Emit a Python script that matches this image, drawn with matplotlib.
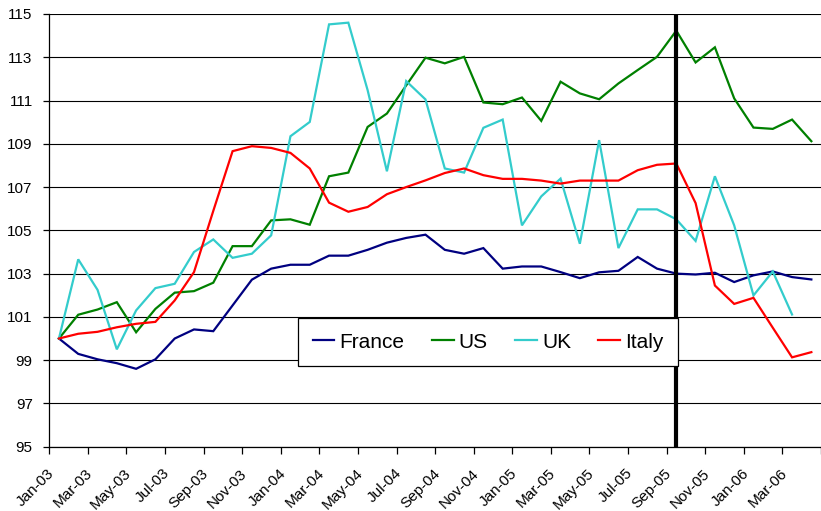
import matplotlib
matplotlib.use("Agg")
import matplotlib.pyplot as plt
import matplotlib.transforms as mtransforms
import numpy as np

months = ["Jan-03","Feb-03","Mar-03","Apr-03","May-03","Jun-03","Jul-03","Aug-03","Sep-03","Oct-03","Nov-03","Dec-03",
          "Jan-04","Feb-04","Mar-04","Apr-04","May-04","Jun-04","Jul-04","Aug-04","Sep-04","Oct-04","Nov-04","Dec-04",
          "Jan-05","Feb-05","Mar-05","Apr-05","May-05","Jun-05","Jul-05","Aug-05","Sep-05","Oct-05","Nov-05","Dec-05",
          "Jan-06","Feb-06","Mar-06","Apr-06"]

france = [100.0, 99.29, 99.04, 98.86, 98.6, 99.04, 100.0, 100.42, 100.34, 101.53, 102.72, 103.23,
          103.41, 103.41, 103.83, 103.83, 104.1, 104.43, 104.65, 104.8, 104.1, 103.92, 104.18, 103.23,
          103.33, 103.33, 103.07, 102.79, 103.06, 103.13, 103.77, 103.23, 103.0, 102.96, 103.04, 102.61,
          102.92, 103.1, 102.84, 102.73]

us = [100.0, 101.1, 101.34, 101.68, 100.29, 101.37, 102.12, 102.19, 102.58, 104.27, 104.27, 105.46,
      105.51, 105.26, 107.5, 107.67, 109.78, 110.4, 111.7, 112.98, 112.72, 113.02, 110.91, 110.83,
      111.14, 110.06, 111.87, 111.33, 111.06, 111.79, 112.41, 113.02, 114.23, 112.76, 113.46, 111.1,
      109.75, 109.69, 110.12, 109.12]

uk = [100.0, 103.66, 102.25, 99.5, 101.3, 102.33, 102.53, 104.0, 104.58, 103.73, 103.92, 104.77,
      109.35, 110.01, 114.52, 114.6, 111.48, 107.73, 111.9, 111.05, 107.86, 107.67, 109.74, 110.12,
      105.23, 106.57, 107.39, 104.38, 109.17, 104.18, 105.97, 105.97, 105.51, 104.51, 107.5, 105.23,
      101.99, 103.1, 101.11, np.nan]

italy = [100.0, 100.22, 100.31, 100.52, 100.68, 100.77, 101.76, 103.07, 105.9, 108.66, 108.89, 108.81,
         108.58, 107.86, 106.28, 105.86, 106.08, 106.67, 107.0, 107.31, 107.65, 107.86, 107.55, 107.38,
         107.38, 107.3, 107.16, 107.3, 107.3, 107.3, 107.78, 108.03, 108.09, 106.26, 102.45, 101.6,
         101.88, 100.5, 99.13, 99.37]

series_names = ["France", "US", "UK", "Italy"]
series_colors = ["#000080", "#008000", "#33CCCC", "#FF0000"]
marker_month = "Sep-05"
yticks = list(range(95, 116, 2))

plt.rcParams['font.family'] = ['Liberation Sans', 'DejaVu Sans']

W, H = 821, 511
fig = plt.figure(figsize=(W/100, H/100), dpi=100)
left_px, right_px, top_px, bottom_px = 49.3, 821, 14, 446.7
ax = fig.add_axes([left_px/W, 1 - bottom_px/H, (right_px-left_px)/W, (bottom_px-top_px)/H])

x = np.arange(len(months))
for vals, name, col in zip([france, us, uk, italy], series_names, series_colors):
    ax.plot(x, vals, color=col, lw=1.6, label=name, solid_joinstyle='miter')

ax.axvline(months.index(marker_month), color='black', lw=3.0, zorder=5)

ax.set_ylim(95, 115)
ax.set_yticks(yticks)
ax.set_yticklabels([str(v) for v in yticks], fontsize=11)
step = (right_px - left_px) / 39.68
ax.set_xlim(-0.5, (right_px - left_px) / step - 0.5)

ax.grid(axis='y', color='black', lw=0.8)
ax.set_axisbelow(True)
for s in ['top', 'right']:
    ax.spines[s].set_visible(False)
ax.spines['left'].set_color('black')
ax.spines['bottom'].set_color('black')
ax.spines['left'].set_linewidth(0.9)
ax.spines['bottom'].set_linewidth(0.9)

ax.tick_params(axis='y', direction='out', length=4, width=0.9, pad=8)

# labels at category centers, tick marks at category boundaries
ax.set_xticks(x[::2])
ax.set_xticklabels(months[::2], rotation=45, ha='right', fontsize=11)
ax.tick_params(axis='x', which='major', length=0, pad=14)
ax.set_xticks(np.arange(-0.5, len(months), 2), minor=True)
ax.tick_params(axis='x', which='minor', direction='out', length=5, width=0.9)
offset = mtransforms.ScaledTranslation(-2/100, 0, fig.dpi_scale_trans)
for lbl in ax.get_xticklabels():
    lbl.set_transform(lbl.get_transform() + offset)

leg = ax.legend(loc='upper left', bbox_to_anchor=(298/W, 1 - 318/H), bbox_transform=fig.transFigure,
                ncol=4, fontsize=15, frameon=True, fancybox=False, shadow=False,
                borderaxespad=0, borderpad=0.7, handlelength=1.05, handletextpad=0.25,
                columnspacing=1.3)
leg.get_frame().set_edgecolor('black')
leg.get_frame().set_linewidth(0.9)
leg.get_frame().set_facecolor('white')
leg.get_frame().set_alpha(1)
leg.set_zorder(10)

fig.savefig("out.png", dpi=100)
